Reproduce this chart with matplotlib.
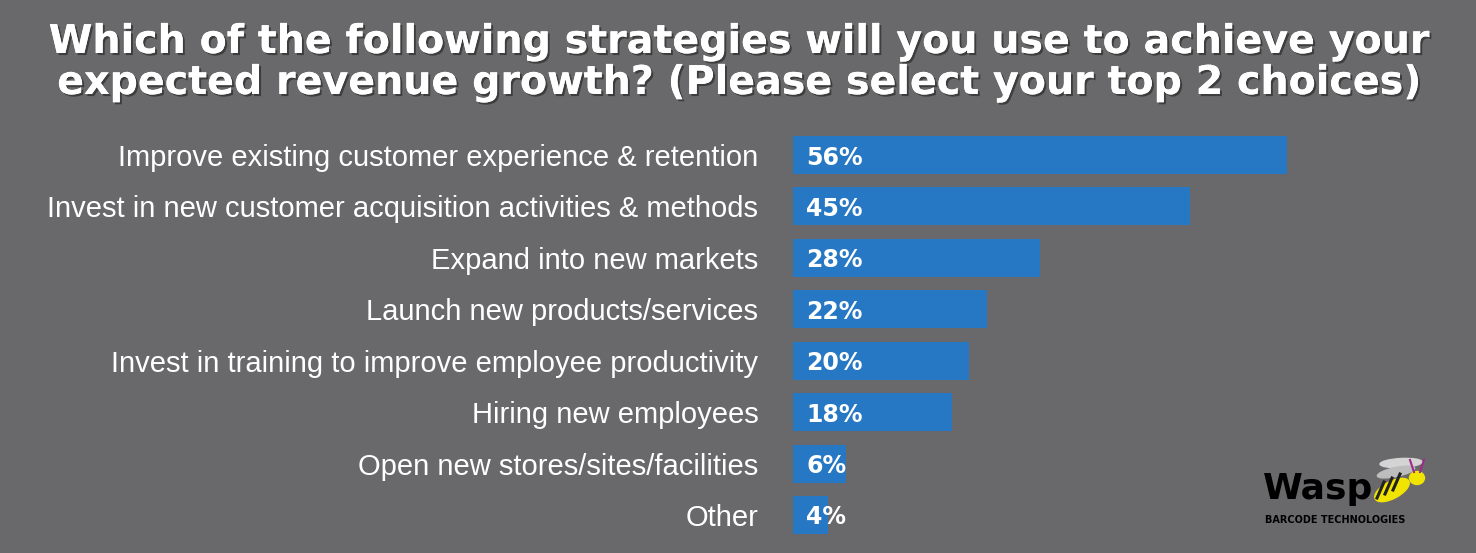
import matplotlib
matplotlib.use("Agg")
import matplotlib.pyplot as plt
import matplotlib.patheffects as pe
from matplotlib.patches import Ellipse

categories = [
    "Improve existing customer experience & retention",
    "Invest in new customer acquisition activities & methods",
    "Expand into new markets",
    "Launch new products/services",
    "Invest in training to improve employee productivity",
    "Hiring new employees",
    "Open new stores/sites/facilities",
    "Other",
]
values = [56, 45, 28, 22, 20, 18, 6, 4]
value_labels = ["56%", "45%", "28%", "22%", "20%", "18%", "6%", "4%"]
title_lines = ["Which of the following strategies will you use to achieve your",
               "expected revenue growth? (Please select your top 2 choices)"]

BG = "#69696b"
BAR = "#2677c4"

fig = plt.figure(figsize=(14.76, 5.53), dpi=100, facecolor=BG)
ax = fig.add_axes([793 / 1476, 1 - 540.7 / 553, 683 / 1476, 411.4 / 553])
ax.set_facecolor(BG)
ax.patch.set_alpha(0)
ys = list(range(len(categories)))
ax.barh(ys, values, height=0.74, color=BAR, edgecolor="none")
ax.set_xlim(0, 683 / 8.82)
ax.set_ylim(len(categories) - 0.5, -0.5)
for s in ax.spines.values():
    s.set_visible(False)
ax.set_xticks([])
ax.set_yticks(ys)
ax.set_yticklabels(categories, fontsize=21, color="white", family=["Liberation Sans", "DejaVu Sans"])
ax.tick_params(axis="y", length=0, pad=25)
for y, v, lab in zip(ys, values, value_labels):
    ax.text(1.5, y, lab, color="white", fontsize=17, fontweight="bold", va="center_baseline", ha="left",
            family=["DejaVu Sans"])

shadow = [pe.withSimplePatchShadow(offset=(1.5, -1.5), shadow_rgbFace="#333333", alpha=0.8), pe.Normal()]
for line, ypx in zip(title_lines, [42, 83]):
    fig.text(740 / 1476, 1 - ypx / 553, line, ha="center", va="center", color="white",
             fontsize=28.5, fontweight="bold", family=["DejaVu Sans"], path_effects=shadow)

# logo
fig.text(1263 / 1476, 1 - 489 / 553, "Wasp", ha="left", va="center", color="black", fontsize=26,
         fontweight="bold", family=["DejaVu Sans"])
fig.text(1265 / 1476, 1 - 520 / 553, "BARCODE TECHNOLOGIES", ha="left", va="center", color="black",
         fontsize=7, fontweight="bold", family=["DejaVu Sans"])
lax = fig.add_axes([1368 / 1476, 1 - 512 / 553, 75 / 1476, 60 / 553])
lax.set_xlim(0, 75); lax.set_ylim(0, 60); lax.axis("off")
lax.add_patch(Ellipse((33, 49), 42, 9, angle=3, color="#d4d4d4"))
lax.add_patch(Ellipse((28, 40), 38, 9, angle=12, color="#bdbdbd"))
lax.add_patch(Ellipse((24, 22), 38, 17, angle=28, color="#f0e400"))
for cx in (12, 20, 28):
    lax.plot([cx - 3, cx + 4], [8 + cx * 0.5, 24 + cx * 0.5], color="#222222", lw=2.2)
lax.add_patch(Ellipse((49, 34), 15, 13, color="#f0e400"))
lax.plot([46, 42], [40, 52], color="#a02a8a", lw=1.5)
lax.plot([52, 56], [40, 52], color="#a02a8a", lw=1.5)

fig.savefig("out.png", dpi=100, facecolor=BG)
